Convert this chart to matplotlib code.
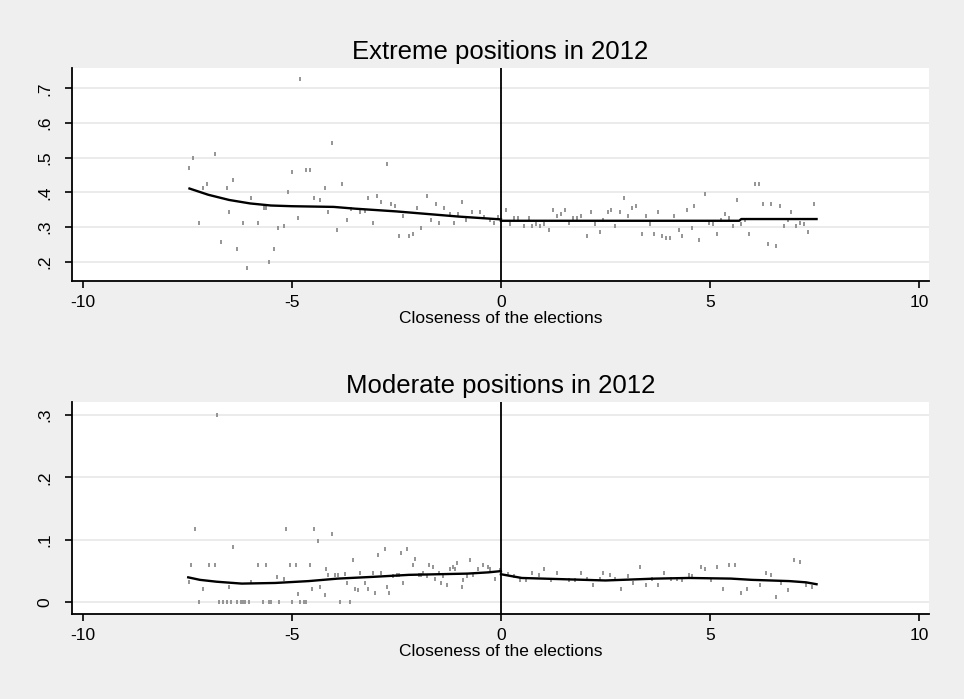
import numpy as np
import matplotlib.pyplot as plt

plt.rcParams['font.family'] = ['Liberation Sans', 'DejaVu Sans']

# --- extreme positions: raw points (closeness, share) ---
ext_x = [-7.47, -7.37, -6.84, -7.23, -7.13, -7.03, -6.70, -6.56, -6.41, -6.51,
         -6.32, -6.17, -6.07, -5.98, -5.82, -5.67, -5.63, -5.54, -5.44, -5.34,
         -5.20, -5.10, -5.00, -4.86, -4.80, -4.66, -4.57, -4.47, -4.33, -4.22,
         -4.13, -4.03, -3.93, -3.79, -3.69, -3.58, -3.36, -3.26, -3.17, -3.07,
         -2.97, -2.88, -2.72, -2.63, -2.53, -2.44, -2.34, -2.19, -2.10, -2.00,
         -1.91, -1.76, -1.67, -1.56, -1.47, -1.37, -1.23, -1.13, -1.03, -0.94,
         -0.84, -0.70, -0.50, -0.41, -0.26, -0.17, -0.07,
         0.13, 0.22, 0.32, 0.42, 0.56, 0.66, 0.75, 0.85, 0.94, 1.04,
         1.14, 1.24, 1.34, 1.43, 1.53, 1.63, 1.72, 1.82, 1.92, 2.07,
         2.16, 2.26, 2.36, 2.45, 2.55, 2.64, 2.74, 2.84, 2.94, 3.04,
         3.13, 3.23, 3.37, 3.47, 3.56, 3.66, 3.76, 3.85, 3.95, 4.05,
         4.15, 4.25, 4.34, 4.44, 4.58, 4.63, 4.73, 4.88, 4.98, 5.07,
         5.17, 5.26, 5.36, 5.46, 5.55, 5.65, 5.75, 5.84, 5.94, 6.08,
         6.18, 6.28, 6.38, 6.47, 6.57, 6.67, 6.76, 6.86, 6.95, 7.05,
         7.15, 7.24, 7.34, 7.48]
ext_y = [0.471, 0.500, 0.512, 0.313, 0.412, 0.424, 0.256, 0.413, 0.436, 0.342,
         0.238, 0.313, 0.181, 0.384, 0.313, 0.354, 0.354, 0.198, 0.238, 0.296,
         0.302, 0.401, 0.459, 0.326, 0.726, 0.465, 0.465, 0.384, 0.378, 0.412,
         0.342, 0.541, 0.290, 0.424, 0.319, 0.353, 0.342, 0.346, 0.384, 0.313,
         0.389, 0.372, 0.482, 0.366, 0.361, 0.273, 0.331, 0.273, 0.279, 0.354,
         0.296, 0.389, 0.319, 0.366, 0.313, 0.355, 0.337, 0.313, 0.337, 0.372,
         0.319, 0.342, 0.342, 0.328, 0.319, 0.313, 0.328,
         0.348, 0.308, 0.325, 0.325, 0.302, 0.325, 0.302, 0.308, 0.302, 0.308,
         0.290, 0.348, 0.331, 0.337, 0.348, 0.313, 0.325, 0.325, 0.331, 0.273,
         0.342, 0.308, 0.285, 0.319, 0.342, 0.348, 0.302, 0.342, 0.384, 0.331,
         0.354, 0.360, 0.279, 0.331, 0.308, 0.279, 0.342, 0.273, 0.267, 0.267,
         0.331, 0.290, 0.273, 0.348, 0.296, 0.360, 0.262, 0.395, 0.313, 0.308,
         0.279, 0.319, 0.337, 0.325, 0.302, 0.378, 0.308, 0.319, 0.279, 0.424,
         0.424, 0.366, 0.250, 0.366, 0.244, 0.361, 0.302, 0.319, 0.342, 0.302,
         0.313, 0.308, 0.285, 0.366]

# smoothed fit, left and right of the cutoff
ext_fit_lx = [-7.45, -7.0, -6.5, -6.0, -5.5, -5.0, -4.0, -3.5, -3.0, -2.5,
              -2.0, -1.5, -1.0, -0.5, 0.0]
ext_fit_ly = [0.411, 0.393, 0.378, 0.368, 0.362, 0.360, 0.358, 0.353, 0.349, 0.345,
              0.340, 0.335, 0.330, 0.326, 0.322]
ext_fit_rx = [0.0, 5.70, 5.75, 7.55]
ext_fit_ry = [0.318, 0.318, 0.323, 0.323]

# --- moderate positions ---
mod_x = [-7.32, -7.42, -7.47, -7.23, -7.13, -6.99, -6.84, -6.79, -6.75, -6.65,
         -6.56, -6.46, -6.41, -6.51, -6.32, -6.22, -6.17, -6.12, -6.03, -5.97,
         -5.82, -5.63, -5.68, -5.54, -5.49, -5.30, -5.36, -5.20, -5.14, -5.05,
         -4.90, -5.00, -4.86, -4.81, -4.71, -4.66, -4.57, -4.52, -4.46, -4.37,
         -4.32, -4.22, -4.18, -4.13, -4.03, -3.98, -3.89, -3.84, -3.60, -3.74,
         -3.69, -3.55, -3.50, -3.41, -3.36, -3.26, -3.17, -3.07, -3.02, -2.93,
         -2.78, -2.88, -2.73, -2.68, -2.59, -2.49, -2.44, -2.40, -2.35, -2.24,
         -2.10, -2.05, -1.95, -1.91, -1.86, -1.76, -1.71, -1.62, -1.57, -1.47,
         -1.43, -1.38, -1.28, -1.23, -1.14, -1.09, -1.04, -0.94, -0.90, -0.80,
         -0.75, -0.66, -0.56, -0.42, -0.32, -0.27, -0.13, -0.03,
         0.18, 0.32, 0.46, 0.61, 0.75, 0.90, 1.04, 1.19, 1.34, 1.63,
         1.77, 1.92, 2.06, 2.21, 2.36, 2.45, 2.60, 2.74, 2.88, 3.03,
         3.17, 3.32, 3.46, 3.61, 3.76, 3.91, 4.06, 4.20, 4.34, 4.49,
         4.58, 4.78, 4.87, 5.02, 5.17, 5.31, 5.46, 5.60, 5.75, 5.89,
         6.19, 6.33, 6.47, 6.57, 6.71, 6.86, 7.00, 7.15, 7.29, 7.44]
mod_y = [0.118, 0.060, 0.032, 0.000, 0.022, 0.060, 0.060, 0.300, 0.000, 0.000,
         0.000, 0.000, 0.089, 0.024, 0.000, 0.000, 0.000, 0.000, 0.000, 0.033,
         0.060, 0.060, 0.000, 0.000, 0.000, 0.000, 0.041, 0.037, 0.118, 0.060,
         0.060, 0.000, 0.014, 0.000, 0.000, 0.000, 0.060, 0.022, 0.118, 0.099,
         0.024, 0.012, 0.054, 0.044, 0.109, 0.044, 0.044, 0.000, 0.000, 0.045,
         0.031, 0.067, 0.022, 0.019, 0.047, 0.031, 0.022, 0.047, 0.015, 0.076,
         0.086, 0.047, 0.025, 0.015, 0.042, 0.044, 0.044, 0.079, 0.031, 0.086,
         0.060, 0.070, 0.044, 0.044, 0.047, 0.042, 0.060, 0.057, 0.038, 0.047,
         0.031, 0.042, 0.028, 0.054, 0.057, 0.054, 0.063, 0.025, 0.035, 0.042,
         0.067, 0.044, 0.054, 0.060, 0.057, 0.054, 0.038, 0.051,
         0.045, 0.042, 0.035, 0.035, 0.047, 0.044, 0.054, 0.035, 0.047, 0.035,
         0.035, 0.047, 0.038, 0.028, 0.038, 0.047, 0.044, 0.038, 0.022, 0.042,
         0.031, 0.057, 0.028, 0.038, 0.028, 0.047, 0.038, 0.038, 0.035, 0.044,
         0.042, 0.057, 0.054, 0.035, 0.057, 0.022, 0.060, 0.060, 0.015, 0.022,
         0.028, 0.047, 0.044, 0.009, 0.031, 0.019, 0.067, 0.064, 0.028, 0.025]

mod_fit_lx = [-7.48, -7.2, -6.8, -6.2, -5.4, -4.6, -3.9, -3.0, -2.2, -1.5,
              -0.8, -0.3, 0.0]
mod_fit_ly = [0.040, 0.036, 0.033, 0.030, 0.031, 0.034, 0.038, 0.041, 0.044, 0.045,
              0.046, 0.048, 0.050]
mod_fit_rx = [0.0, 0.25, 0.5, 1.5, 2.5, 3.7, 4.5, 5.5, 6.0, 6.9, 7.3, 7.55]
mod_fit_ry = [0.045, 0.042, 0.039, 0.037, 0.035, 0.038, 0.039, 0.038, 0.036, 0.034,
              0.032, 0.029]

ext_ticks = [0.2, 0.3, 0.4, 0.5, 0.6, 0.7]
ext_labels = ['.2', '.3', '.4', '.5', '.6', '.7']
mod_ticks = [0.0, 0.1, 0.2, 0.3]
mod_labels = ['0', '.1', '.2', '.3']
x_ticks = [-10, -5, 0, 5, 10]

bg = '#efefef'
fig = plt.figure(figsize=(9.64, 6.99), dpi=100, facecolor=bg)
ax1 = fig.add_axes([0.0747, 0.598, 0.889, 0.3047])
ax2 = fig.add_axes([0.0747, 0.1216, 0.889, 0.3037])

panels = [
    (ax1, ext_x, ext_y, ext_fit_lx, ext_fit_ly, ext_fit_rx, ext_fit_ry,
     ext_ticks, ext_labels, (0.1443, 0.7586), 'Extreme positions in 2012'),
    (ax2, mod_x, mod_y, mod_fit_lx, mod_fit_ly, mod_fit_rx, mod_fit_ry,
     mod_ticks, mod_labels, (-0.0187, 0.3213), 'Moderate positions in 2012'),
]

for ax, px, py, lx, ly, rx, ry, yt, yl, ylim, title in panels:
    ax.set_facecolor('white')
    ax.scatter(px, py, marker='|', s=10, linewidths=1.3, color='#8c8c8c', zorder=2)
    ax.plot(lx, ly, color='black', lw=1.7, zorder=3)
    ax.plot(rx, ry, color='black', lw=1.7, zorder=3)
    ax.axvline(0, color='black', lw=1.3, zorder=4)

    ax.set_xlim(-10.26, 10.24)
    ax.set_ylim(*ylim)
    ax.set_xticks(x_ticks)
    ax.set_xticklabels([str(t) for t in x_ticks])
    ax.set_yticks(yt)
    ax.set_yticklabels(yl)
    ax.yaxis.grid(True, color='#e8e8e8', lw=1.2)
    ax.set_axisbelow(True)

    for side in ('top', 'right'):
        ax.spines[side].set_visible(False)
    for side in ('left', 'bottom'):
        ax.spines[side].set_linewidth(1.3)
    ax.tick_params(axis='both', length=5, width=1.2, labelsize=12.5, colors='black')
    ax.tick_params(axis='x', pad=5)
    ax.tick_params(axis='y', pad=9, labelrotation=90)
    for t in ax.get_yticklabels():
        t.set_va('center')

    ax.set_title(title, fontsize=18.5, pad=6.5)
    ax.set_xlabel('Closeness of the elections', fontsize=12.5, va='center')
    ax.xaxis.set_label_coords(0.5, -0.178)

fig.savefig('out.png', dpi=100, facecolor=bg)
